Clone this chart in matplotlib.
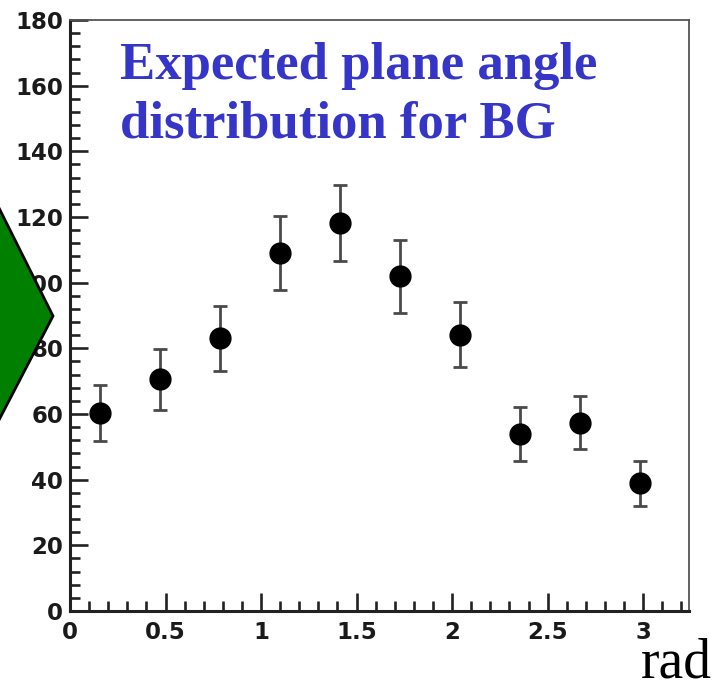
import numpy as np
import matplotlib
matplotlib.use("Agg")
import matplotlib.pyplot as plt
from matplotlib.patches import Polygon
from matplotlib.ticker import MultipleLocator, FuncFormatter

# Plane angle distribution (10 bins between 0 and pi)
bin_centers = [0.157, 0.471, 0.785, 1.100, 1.414, 1.728, 2.042, 2.356, 2.670, 2.985]
counts = [60.4, 70.6, 83.1, 109.0, 118.1, 102.0, 84.1, 53.8, 57.4, 38.9]
errors = [8.5, 9.3, 9.9, 11.2, 11.6, 11.1, 9.9, 8.2, 8.1, 6.9]

title_lines = ["Expected plane angle", "distribution for BG"]
x_unit = "rad"

W, H = 716, 684
fig = plt.figure(figsize=(W / 100, H / 100), dpi=100)
fig.patch.set_facecolor("white")

ax = fig.add_axes([70 / W, 1 - 611 / H, (689 - 70) / W, (611 - 20) / H])
ax.set_xlim(0, 3.24)
ax.set_ylim(0, 180)

ax.errorbar(bin_centers, counts, yerr=errors, fmt="o", color="black",
            ecolor="#4a4a4a", elinewidth=2.0, capsize=5, capthick=2.0,
            markersize=15, zorder=3)

ax.xaxis.set_major_locator(MultipleLocator(0.5))
ax.xaxis.set_minor_locator(MultipleLocator(0.1))
ax.yaxis.set_major_locator(MultipleLocator(20))
ax.yaxis.set_minor_locator(MultipleLocator(4))
ax.xaxis.set_major_formatter(FuncFormatter(lambda v, p: f"{v:g}"))

ax.tick_params(which="both", direction="in", top=False, right=False,
               width=1.9, color="#222222")
ax.tick_params(which="major", length=13)
ax.tick_params(which="minor", length=7)
ax.tick_params(axis="both", labelsize=16.5)
ax.tick_params(axis="x", pad=7)
ax.tick_params(axis="y", pad=5)
for lab in ax.get_xticklabels() + ax.get_yticklabels():
    lab.set_fontweight("bold")
    lab.set_family("DejaVu Sans")
    lab.set_color("#1a1a1a")

for side in ("left", "bottom"):
    ax.spines[side].set_linewidth(2.2)
    ax.spines[side].set_color("#222222")
for side in ("top", "right"):
    ax.spines[side].set_linewidth(1.3)
    ax.spines[side].set_color("#555555")

# Title lines
for i, line in enumerate(title_lines):
    fig.text(120 / W, 1 - (79 + 59 * i) / H, line, fontsize=38,
             fontweight="bold", family="Liberation Serif", color="#3535c8",
             ha="left", va="baseline")

# Unit label under the x axis
fig.text(712 / W, 1 - 677 / H, x_unit, fontsize=40, family="Liberation Serif",
         color="black", ha="right", va="baseline")

# Green arrow head poking in from the left edge
arrow = Polygon([(-20, H - 170), (0, H - 210), (53, H - 316), (0, H - 418),
                 (-20, H - 458)], closed=True, facecolor="#007f00",
                edgecolor="black", linewidth=2.0,
                transform=None, zorder=5)
fig.patches.append(arrow)

fig.savefig("out.png", dpi=100)
